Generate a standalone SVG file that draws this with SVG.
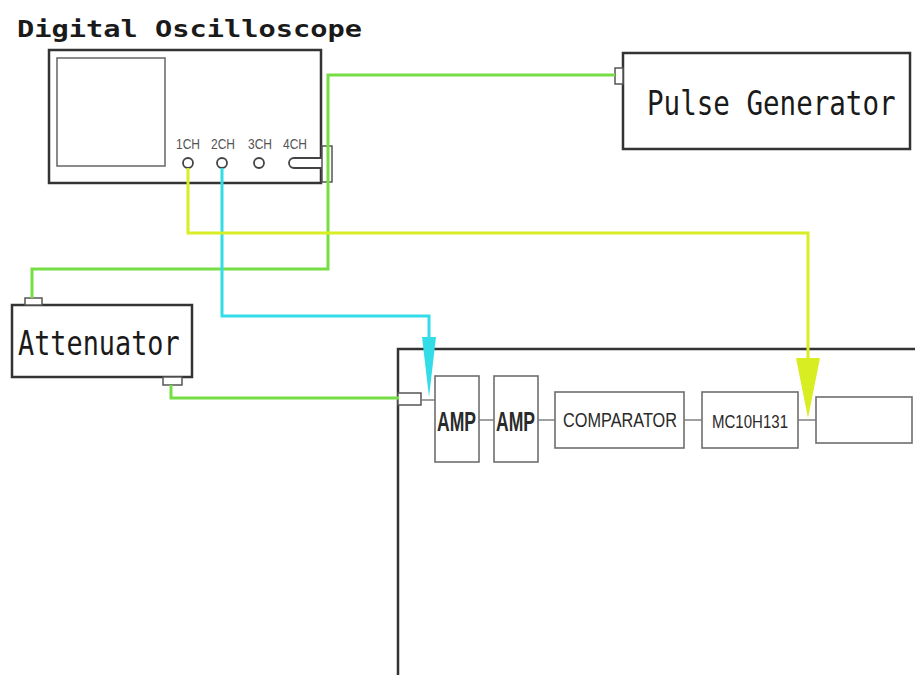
<svg xmlns="http://www.w3.org/2000/svg" width="915" height="675" viewBox="0 0 915 675">
  <style>
    .frame { fill: #ffffff; stroke: #333333; stroke-width: 2.5; }
    .box { fill: #ffffff; stroke: #6e6e6e; stroke-width: 1.6; }
    .port { fill: #ffffff; stroke: #555555; stroke-width: 1.5; }
    .wire { fill: none; stroke: #777777; stroke-width: 1.4; }
    .green { fill: none; stroke: #77dd44; stroke-width: 3; }
    .cyan { fill: none; stroke: #33dde8; stroke-width: 3; }
    .yellow { fill: none; stroke: #d8ee22; stroke-width: 3; }
    .mono { font-family: "DejaVu Sans Mono", "Liberation Mono", monospace; fill: #1a1a1a; }
    .sans { font-family: "Liberation Sans", Arial, sans-serif; fill: #2a2a2a; }
    .ch { font-family: "Liberation Sans", Arial, sans-serif; font-size: 14px; fill: #555555; }
    .jack { fill: #ffffff; stroke: #444444; stroke-width: 1.8; }
  </style>

  <rect width="915" height="675" fill="#ffffff"/>

  <!-- Oscilloscope -->
  <g id="oscilloscope">
    <text class="mono" x="17" y="37" font-size="23" font-weight="bold" textLength="345" lengthAdjust="spacingAndGlyphs">Digital Oscilloscope</text>
    <rect class="frame" x="49" y="50" width="272" height="133"/>
    <rect class="box" x="57" y="58" width="108" height="108" stroke="#555555"/>
    <text class="ch" x="176" y="149" textLength="24" lengthAdjust="spacingAndGlyphs">1CH</text>
    <text class="ch" x="211" y="149" textLength="24" lengthAdjust="spacingAndGlyphs">2CH</text>
    <text class="ch" x="248" y="149" textLength="24" lengthAdjust="spacingAndGlyphs">3CH</text>
    <text class="ch" x="283" y="149" textLength="24" lengthAdjust="spacingAndGlyphs">4CH</text>
    <circle class="jack" cx="188" cy="163" r="5"/>
    <circle class="jack" cx="222" cy="163" r="5"/>
    <circle class="jack" cx="259" cy="163" r="5"/>
    <!-- 4CH jack with cable plug -->
    <path d="M 322 158 L 294 158 A 5 5 0 0 0 294 168 L 322 168" fill="#ffffff" stroke="#444444" stroke-width="1.8"/>
    <rect class="port" x="322" y="146" width="10" height="36"/>
  </g>

  <!-- Pulse generator -->
  <g id="pulse-generator">
    <rect class="frame" x="623" y="53" width="287" height="96"/>
    <rect class="port" x="615" y="68" width="8" height="16"/>
    <text class="mono" transform="translate(647 115) scale(0.81 1)" font-size="34">Pulse Generator</text>
  </g>

  <!-- Attenuator -->
  <g id="attenuator">
    <rect class="frame" x="12" y="305" width="180" height="72"/>
    <rect class="port" x="25" y="298" width="17" height="7"/>
    <rect class="port" x="163" y="377" width="19" height="8"/>
    <text class="mono" transform="translate(18 355) scale(0.79 1)" font-size="34">Attenuator</text>
  </g>

  <!-- Detector board -->
  <g id="board">
    <rect class="frame" x="398" y="349" width="530" height="340"/>
    <rect class="port" x="398" y="393" width="23" height="12"/>
  </g>

  <g id="amp1">
    <rect class="box" x="435" y="376" width="44" height="86"/>
    <text class="sans" x="437" y="431" font-size="27" font-weight="bold" textLength="39" lengthAdjust="spacingAndGlyphs">AMP</text>
  </g>
  <g id="amp2">
    <rect class="box" x="494" y="376" width="44" height="86"/>
    <text class="sans" x="496" y="431" font-size="27" font-weight="bold" textLength="39" lengthAdjust="spacingAndGlyphs">AMP</text>
  </g>
  <g id="comparator">
    <rect class="box" x="555" y="392" width="129" height="56"/>
    <text class="sans" x="563" y="427" font-size="21" textLength="114" lengthAdjust="spacingAndGlyphs">COMPARATOR</text>
  </g>
  <g id="mc10h131">
    <rect class="box" x="702" y="392" width="96" height="56"/>
    <text class="sans" x="712" y="428" font-size="18" textLength="76" lengthAdjust="spacingAndGlyphs">MC10H131</text>
  </g>
  <g id="output-stage">
    <rect class="box" x="816" y="397" width="96" height="46"/>
  </g>

  <!-- Connectors -->
  <g id="connectors">
    <!-- board signal chain -->
    <path class="wire" d="M 421 400 H 435"/>
    <path class="wire" d="M 479 420 H 494"/>
    <path class="wire" d="M 538 420 H 555"/>
    <path class="wire" d="M 684 420 H 702"/>
    <path class="wire" d="M 798 420 H 816"/>

    <!-- trigger / pulse cabling -->
    <path class="green" d="M 615 75 H 328 V 269 H 32 V 298"/>
    <path class="green" d="M 171 385 V 398 H 399"/>

    <!-- CH2 probe -->
    <path class="cyan" d="M 222 168 V 316 H 429 V 345"/>
    <polygon points="422,337 436,337 429,397" fill="#33dde8"/>

    <!-- CH1 probe -->
    <path class="yellow" d="M 188 168 V 233 H 808 V 365"/>
    <polygon points="796,358 820,358 808,418" fill="#d8ee22"/>
  </g>
</svg>
